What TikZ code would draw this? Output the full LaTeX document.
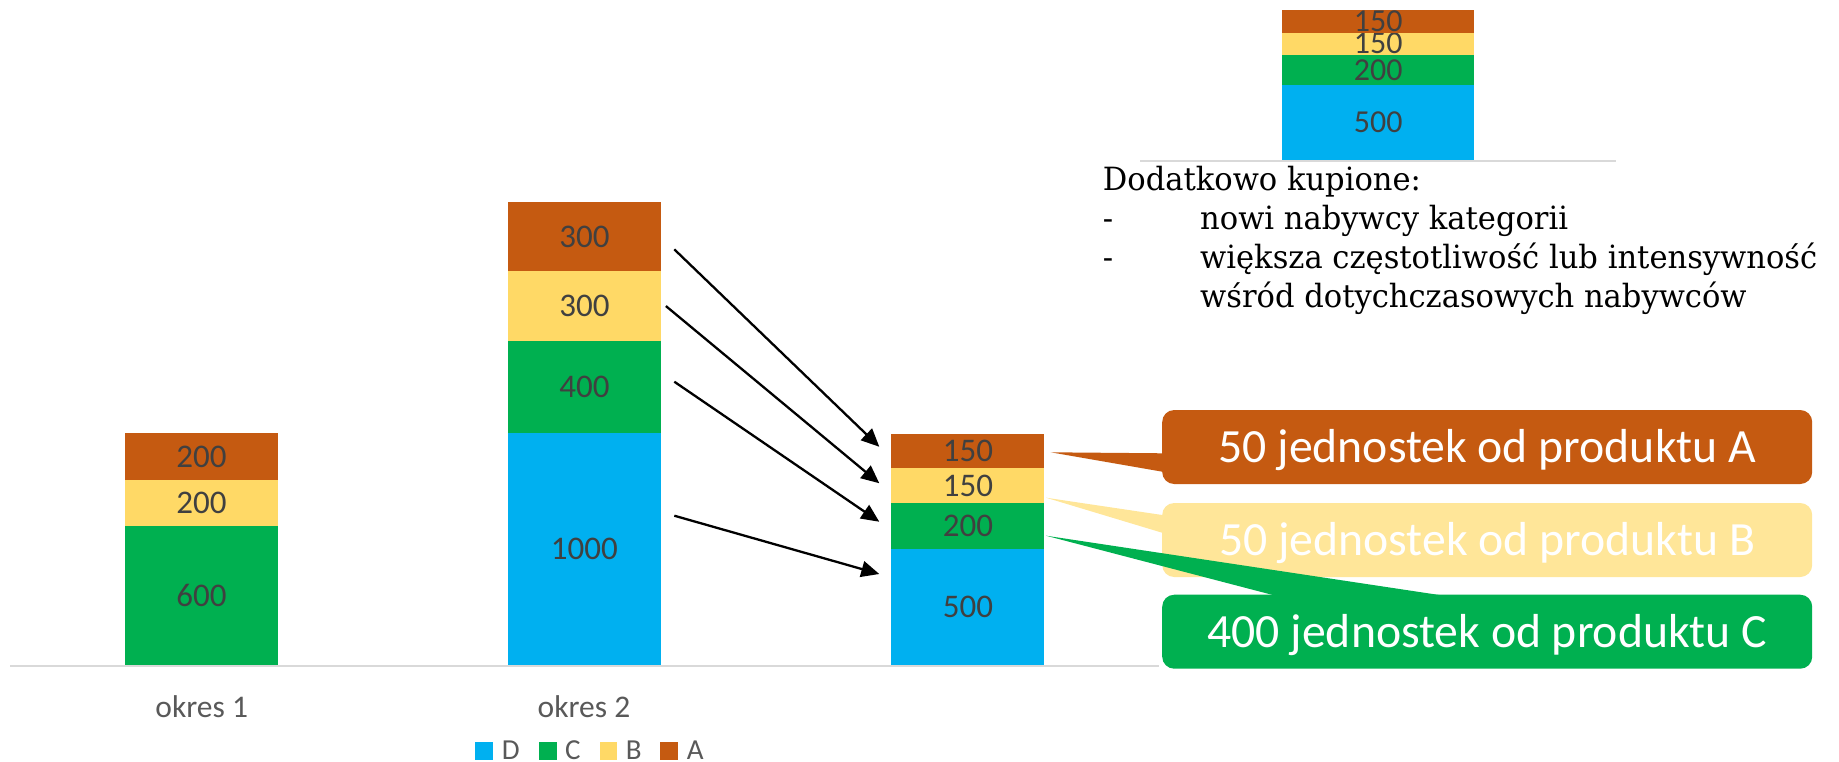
\documentclass[tikz,border=0pt]{standalone}
\usepackage{fontspec}
\setmainfont{Carlito}
\newfontfamily\notefont[FakeStretch=0.955]{DejaVu Serif}
\usetikzlibrary{positioning,calc,arrows.meta}

\definecolor{cA}{HTML}{C55A11}
\definecolor{cB}{HTML}{FFD966}
\definecolor{cC}{HTML}{00B050}
\definecolor{cD}{HTML}{00B0F0}
\definecolor{cBlight}{HTML}{FFE699}
\definecolor{lbl}{HTML}{404040}
\definecolor{axisgray}{HTML}{D9D9D9}
\definecolor{txtgray}{HTML}{595959}

\begin{document}
\begin{tikzpicture}[x=1pt,y=-1pt,
  seg/.style={rectangle, inner sep=0pt, outer sep=0pt, minimum width=153pt,
    text=lbl, font=\fontsize{33}{40}\selectfont, text height=21pt, text depth=0pt},
  miniseg/.style={seg, minimum width=192pt, font=\fontsize{32}{38}\selectfont, text height=20pt},
  callbox/.style={rectangle, rounded corners=12pt, inner sep=0pt, outer sep=0pt,
    minimum width=650pt, minimum height=74pt, text=white,
    font=\fontsize{47.7}{57}\selectfont, text height=30.7pt, text depth=0pt},
  flow/.style={line width=2.3pt, -{Triangle[length=18pt,width=16pt]}},
  axisline/.style={axisgray, line width=2pt},
  cat/.style={text=txtgray, font=\fontsize{31.5}{38}\selectfont, inner sep=0pt, anchor=base},
  legtext/.style={text=txtgray, font=\fontsize{29}{35}\selectfont, inner sep=0pt, anchor=base west},
  legsq/.style={rectangle, inner sep=0pt, minimum size=17.7pt, anchor=north west},
  note/.style={font=\notefont\fontsize{32}{38}\selectfont, inner sep=0pt, anchor=base west}
]
\useasboundingbox (0,0) rectangle (1839,761);

% --- period 1 ---
\node[seg, fill=cC, minimum height=139pt, anchor=south west] (c1) at (124.9,665) {600};
\node[seg, fill=cB, minimum height=46.3pt, above=0pt of c1] (b1) {200};
\node[seg, fill=cA, minimum height=46.3pt, above=0pt of b1] (a1) {200};

% --- period 2 ---
\node[seg, fill=cD, minimum height=231.6pt, anchor=south west] (d2) at (507.9,665) {1000};
\node[seg, fill=cC, minimum height=92.6pt, above=0pt of d2] (c2) {400};
\node[seg, fill=cB, minimum height=69.5pt, above=0pt of c2] (b2) {300};
\node[seg, fill=cA, minimum height=69.5pt, above=0pt of b2] (a2) {300};

% --- remaining part ---
\node[seg, fill=cD, minimum height=115.8pt, anchor=south west] (d3) at (891.4,665) {500};
\node[seg, fill=cC, minimum height=46.3pt, above=0pt of d3] (c3) {200};
\node[seg, fill=cB, minimum height=34.7pt, above=0pt of c3] (b3) {150};
\node[seg, fill=cA, minimum height=34.7pt, above=0pt of b3] (a3) {150};

% --- additional purchases (small stack) ---
\node[miniseg, fill=cD, minimum height=75pt, anchor=south west] (d4) at (1282.2,160) {500};
\node[miniseg, fill=cC, minimum height=30pt, above=0pt of d4] (c4) {200};
\node[miniseg, fill=cB, minimum height=22.5pt, above=0pt of c4] (b4) {150};
\node[miniseg, fill=cA, minimum height=22.5pt, above=0pt of b4] (a4) {150};

% axes
\draw[axisline] (10,666) -- (1159,666);
\draw[axisline] (1140,160.5) -- (1616,160.5);

% category labels
\node[cat] (p1) at (201.7,717.3) {okres 1};
\node[cat] (p2) at (584,717.3) {okres 2};

% legend
\node[legsq, fill=cD] (lD) at (475,742) {};
\node[legtext] (tD) at (501.7,759.8) {D};
\node[legsq, fill=cC] (lC) at (539,742) {};
\node[legtext] (tC) at (565,759.8) {C};
\node[legsq, fill=cB] (lB) at (599.3,742) {};
\node[legtext] (tB) at (625.7,759.8) {B};
\node[legsq, fill=cA] (lA) at (660,742) {};
\node[legtext] (tA) at (686.7,759.8) {A};

% flows from period 2 to the remaining part
\draw[flow] ($(a2.east)+(13.4,12.8)$) -- ($(a3.west)+(-12.1,-4.1)$);
\draw[flow] ($(b2.east)+(5,0)$) -- ($(b3.west)+(-12.1,-2.3)$);
\draw[flow] ($(c2.east)+(13.4,-5.4)$) -- ($(c3.west)+(-12.1,-4.3)$);
\draw[flow] ($(d2.east)+(13.4,-33.5)$) -- ($(d3.west)+(-12.1,-33.1)$);

% callouts
\node[callbox, fill=cA] (ca) at (1487.2,447) {50 jednostek od produktu A};
\coordinate (tipA) at ($(a3.east)+(6.3,1.45)$);
\fill[cA] (tipA) -- ($(ca.west)+(12.8,6.4)$) -- ($(ca.west)+(12.8,26.9)$) -- cycle;

\node[callbox, fill=cBlight] (cb) at (1487.2,540) {50 jednostek od produktu B};
\coordinate (tipB) at ($(b3.east)+(1.6,12.15)$);
\fill[cBlight] (tipB) -- ($(cb.west)+(12.8,-23.1)$) -- ($(cb.west)+(12.8,-3.4)$) -- cycle;

\coordinate (tipC) at ($(c3.east)+(1.6,9.65)$);
\node[callbox, fill=cC] (cc) at (1487.2,631.7) {400 jednostek od produktu C};
\fill[cC] (tipC) -- ($(cc.north)+(16.5,10)$) -- ($(cc.north)+(-177.2,10)$) -- cycle;

% note text
\node[note] (n1) at (1102.7,190.5) {Dodatkowo kupione:};
\node[note] (n2d) at (1102.7,229.5) {-};
\node[note] (n2) at (1200,229.5) {nowi nabywcy kategorii};
\node[note] (n3d) at (1102.7,268) {-};
\node[note] (n3) at (1200,268) {większa częstotliwość lub intensywność};
\node[note] (n4) at (1200,307) {wśród dotychczasowych nabywców};
\end{tikzpicture}
\end{document}
